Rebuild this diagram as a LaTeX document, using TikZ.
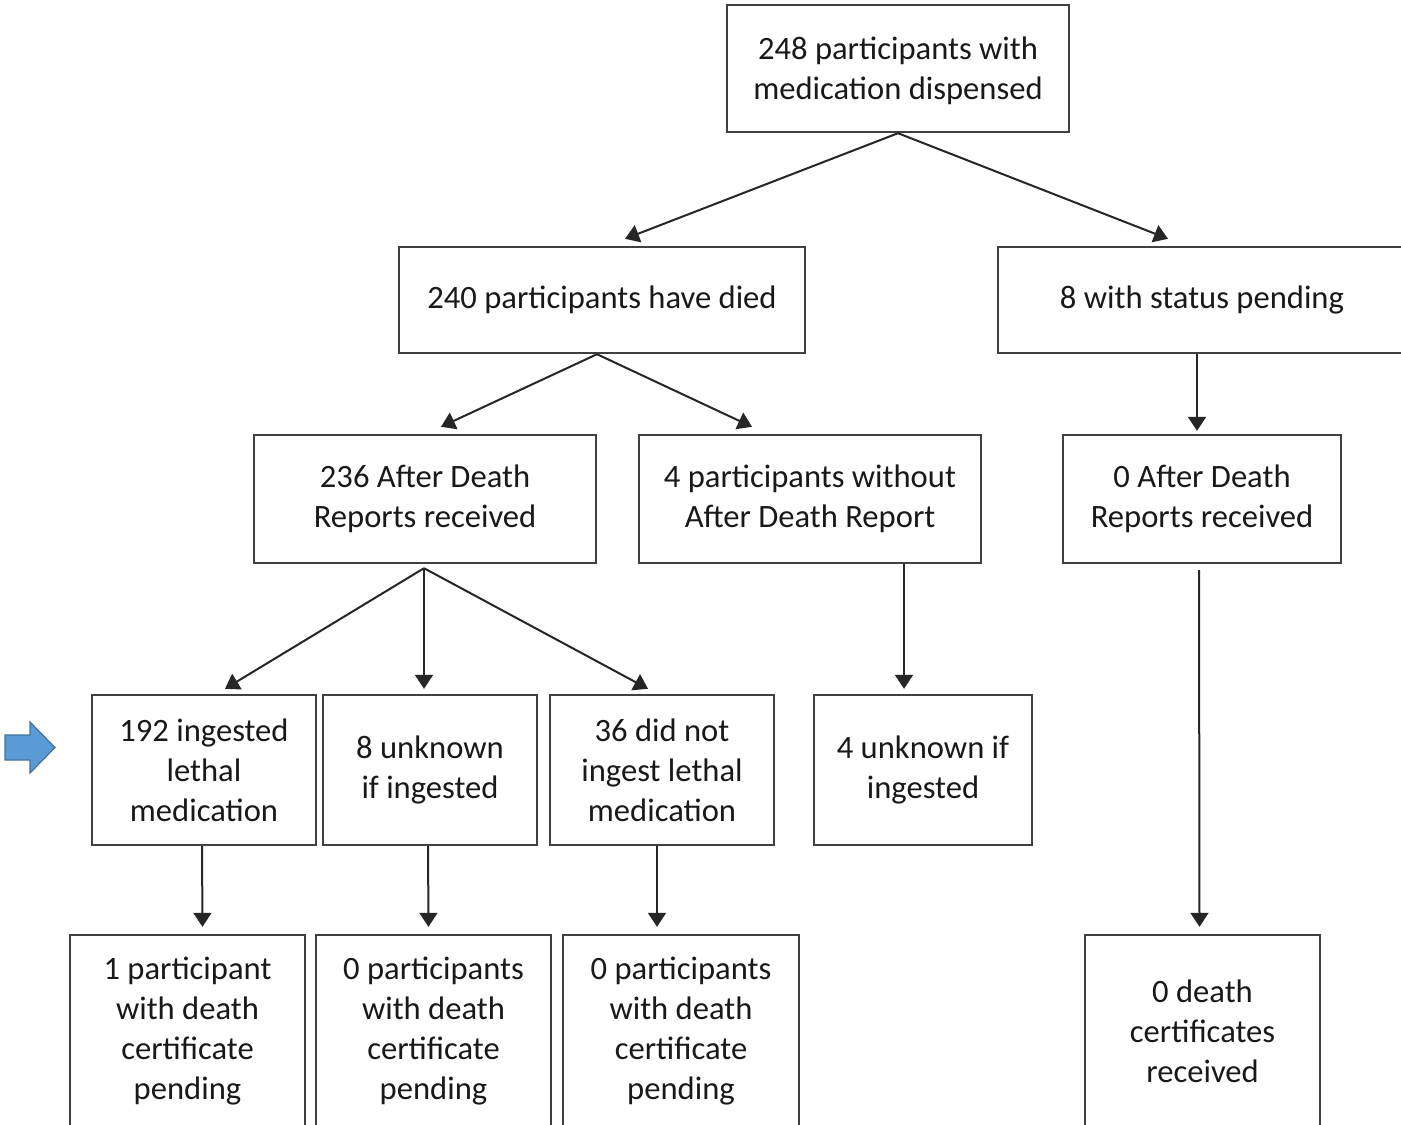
\documentclass[tikz,border=0pt]{standalone}
\usepackage{fontspec}
\setmainfont{Carlito}
\usetikzlibrary{arrows.meta}
\definecolor{boxline}{HTML}{404040}
\definecolor{bluefill}{HTML}{5B9BD5}
\definecolor{blueline}{HTML}{41719C}
\tikzset{
  box/.style={draw=boxline, line width=1.2pt, rectangle, inner sep=0pt, align=center,
    font=\fontsize{16.3}{20}\selectfont, text=black!90},
  arr/.style={draw=black!85, line width=1pt, -{Triangle[length=7pt,width=9pt]}}
}
\begin{document}
\begin{tikzpicture}[x=0.5pt,y=-0.5pt]
\useasboundingbox (0,0) rectangle (1401,1124);
\clip (0,0) rectangle (1401,1124);
\fill[white] (0,0) rectangle (1401,1124);
% level 0
\node[box, minimum width=171pt, minimum height=63.5pt] (top) at (898,68.5) {\strut 248 participants with\\medication dispensed};
% level 1
\node[box, minimum width=203pt, minimum height=53pt] (died) at (602,300) {240 participants have died};
\node[box, minimum width=204pt, minimum height=53pt] (pend) at (1202,300) {8 with status pending};
% level 2
\node[box, minimum width=171pt, minimum height=64pt] (adr) at (425,499) {236 After Death\\Reports received};
\node[box, minimum width=171pt, minimum height=64pt] (noadr) at (810,499) {4 participants without\\After Death Report};
\node[box, minimum width=139pt, minimum height=64pt] (zadr) at (1202,499) {0 After Death\\Reports received};
% level 3
\node[box, minimum width=112pt, minimum height=75pt] (ing) at (204,770) {192 ingested\\lethal\\medication};
\node[box, minimum width=107pt, minimum height=75pt] (unk) at (430,770) {8 unknown\\if ingested};
\node[box, minimum width=112pt, minimum height=75pt] (noing) at (662,770) {36 did not\\ingest lethal\\medication};
\node[box, minimum width=109pt, minimum height=75pt] (unk4) at (923,770) {4 unknown if\\ingested};
% level 4
\node[box, minimum width=117.5pt, minimum height=96pt] (dc1) at (187.5,1031) {1 participant\\with death\\certificate\\pending};
\node[box, minimum width=117.5pt, minimum height=96pt] (dc2) at (433.5,1031) {0 participants\\with death\\certificate\\pending};
\node[box, minimum width=118pt, minimum height=96pt] (dc3) at (681,1031) {0 participants\\with death\\certificate\\pending};
\node[box, minimum width=117.5pt, minimum height=96pt] (dc4) at (1202.5,1031) {0 death\\certificates\\received};
% connectors
\draw[arr] (top.south) -- ([xshift=11.5pt,yshift=3.5pt]died.north);
\draw[arr] (top.south) -- ([xshift=-17pt,yshift=3.5pt]pend.north);
\draw[arr] ([xshift=-2.5pt]died.south) -- ([xshift=8pt,yshift=3.5pt]adr.north);
\draw[arr] ([xshift=-2.5pt]died.south) -- ([xshift=-29pt,yshift=3.5pt]noadr.north);
\draw[arr] ([xshift=-2.5pt]pend.south) -- ([xshift=-2.5pt,yshift=1.5pt]zadr.north);
\draw[arr] ([xshift=-0.5pt,yshift=-2pt]adr.south) -- ([xshift=10.5pt,yshift=2.5pt]ing.north);
\draw[arr] ([xshift=-0.5pt,yshift=-2pt]adr.south) -- ([xshift=-3pt,yshift=2.5pt]unk.north);
\draw[arr] ([xshift=-0.5pt,yshift=-2pt]adr.south) -- ([xshift=-7pt,yshift=2.5pt]noing.north);
\draw[arr] ([xshift=47pt]noadr.south) -- ([xshift=-9.5pt,yshift=2.5pt]unk4.north);
\draw[arr] ([xshift=-1pt]ing.south) -- ([xshift=7.5pt,yshift=3.5pt]dc1.north);
\draw[arr] ([xshift=-1pt]unk.south) -- ([xshift=-2.5pt,yshift=3.5pt]dc2.north);
\draw[arr] ([xshift=-2.5pt]noing.south) -- ([xshift=-12pt,yshift=3.5pt]dc3.north);
\draw[arr] ([xshift=-1.5pt,yshift=-3pt]zadr.south) -- ([xshift=-1.5pt,yshift=3.5pt]dc4.north);
% blue pointer arrow
\filldraw[fill=bluefill, draw=blueline, line width=0.6pt]
  (5,735) -- (30,735) -- (30,722) -- (55,747.5) -- (30,773) -- (30,760) -- (5,760) -- cycle;
\end{tikzpicture}
\end{document}
